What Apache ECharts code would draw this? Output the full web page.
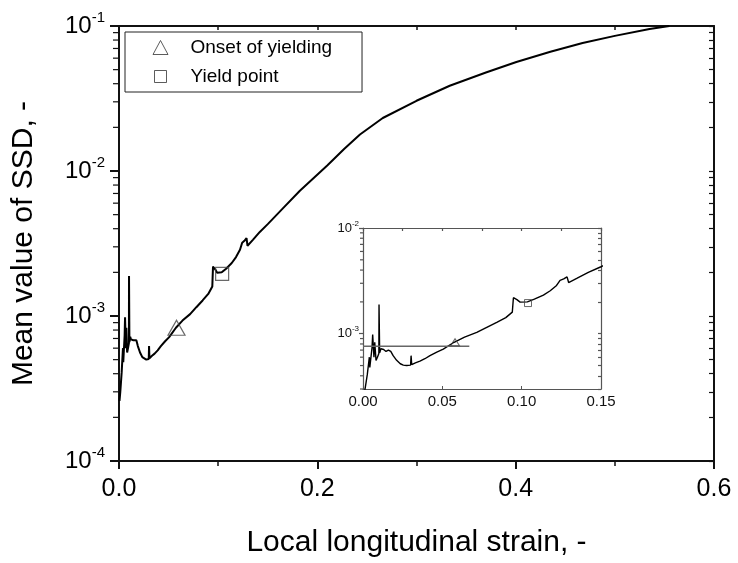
<!DOCTYPE html>
<html>
<head>
<meta charset="utf-8">
<script src="https://cdn.jsdelivr.net/npm/echarts@6/dist/echarts.min.js"></script>
<style>
  html, body { margin: 0; background: #fff; }
  #chart { width: 738px; height: 563px; }
</style>
</head>
<body>
<div id="chart"></div>
<script>
// strain (-) and mean SSD (-)
const strain = [
  0.0005, 0.0013, 0.0027, 0.0040, 0.0043, 0.0057, 0.0061, 0.0069, 0.0074, 0.0082,
  0.0091, 0.0100, 0.0101, 0.0105, 0.0113, 0.0120, 0.0130, 0.0145, 0.0160, 0.0175,
  0.0190, 0.0212, 0.0235, 0.0254, 0.0275, 0.0300, 0.0303, 0.0307, 0.0330, 0.0359,
  0.0390, 0.0422, 0.0465, 0.0506, 0.0574, 0.0640, 0.0717, 0.0780, 0.0843, 0.0900,
  0.0941, 0.0948, 0.0970, 0.0990, 0.1036, 0.1080, 0.1137, 0.1180, 0.1220, 0.1242,
  0.1265, 0.1286, 0.1296, 0.1350, 0.1420, 0.1500, 0.1650, 0.1824, 0.2100, 0.2270,
  0.2430, 0.2660, 0.3000, 0.3335, 0.3700, 0.4007, 0.4350, 0.4675, 0.5000, 0.5350,
  0.5550
];
const ssd = [
  2.6e-4, 3.0e-4, 4.1e-4, 6.0e-4, 4.8e-4, 7.4e-4, 9.8e-4, 6.0e-4, 8.3e-4, 5.6e-4,
  6.0e-4, 6.5e-4, 1.89e-3, 6.6e-4, 7.2e-4, 6.9e-4, 7.1e-4, 6.8e-4, 7.0e-4, 6.8e-4,
  6.2e-4, 5.6e-4, 5.2e-4, 5.05e-4, 5.0e-4, 5.05e-4, 6.2e-4, 5.1e-4, 5.3e-4, 5.5e-4,
  5.8e-4, 6.2e-4, 6.7e-4, 7.15e-4, 8.3e-4, 9.3e-4, 1.03e-3, 1.15e-3, 1.28e-3, 1.42e-3,
  1.6e-3, 2.19e-3, 2.1e-3, 1.99e-3, 2.0e-3, 2.12e-3, 2.32e-3, 2.55e-3, 2.86e-3, 3.2e-3,
  3.3e-3, 3.45e-3, 3.05e-3, 3.35e-3, 3.8e-3, 4.3e-3, 5.5e-3, 7.3e-3, 1.09e-2, 1.42e-2,
  1.786e-2, 2.32e-2, 3.05e-2, 3.87e-2, 4.78e-2, 5.65e-2, 6.65e-2, 7.63e-2, 8.55e-2, 9.54e-2,
  0.1
];
const onset = [0.058, 8.3e-4];
const yieldPt = [0.104, 1.95e-3];
// horizontal reference line in the inset
const refX = [0, 0.067];
const refY = 7.6e-4;

const font = 'Liberation Sans, Arial, sans-serif';
const curve = strain.map((x, i) => [x, ssd[i]]);

// log tick positions (exponent space); withMajor adds the decades too
const logTicks = (lo, hi, withMajor) => {
  const out = [];
  for (let n = Math.floor(lo); n <= hi; n++) {
    for (let k = withMajor ? 1 : 2; k <= 9; k++) {
      const v = n + Math.log10(k);
      if (v >= lo - 1e-9 && v <= hi + 1e-9) out.push(v);
    }
  }
  return out;
};

const powLabel = (v) => '{b|10}{s|' + Math.round(Math.log10(v)) + '}';

const triIcon = 'path://M0,0M16,16M8,1L15.5,15L0.5,15Z';
const sqIcon = 'path://M0,0M16,16M2,2L14,2L14,14L2,14Z';

const hollow = (c, w) => ({ color: 'transparent', borderColor: c, borderWidth: w });

const mainLine = () => ({ show: true, onZero: false, lineStyle: { color: '#111', width: 2 } });
const insetLine = () => ({ show: true, onZero: false, lineStyle: { color: '#555', width: 1.2 } });

// extra value axis in exponent space, only used to draw the right-side log ticks
const tickAxis = (grid, lo, hi, len, color) => ({
  gridIndex: grid, type: 'value', position: 'right', min: lo, max: hi,
  axisLine: grid === 0 ? mainLine() : insetLine(),
  axisTick: { show: true, inside: true, length: len, customValues: logTicks(lo, hi, true), lineStyle: { color, width: 1.2 } },
  splitLine: { show: false },
  axisLabel: { show: false },
});

const chart = echarts.init(document.getElementById('chart'));
chart.setOption({
  animation: false,
  backgroundColor: '#fff',
  grid: [
    { left: 119, right: 24, top: 26, bottom: 100 },
    { left: 363, right: 137, top: 228, bottom: 174 },
  ],
  legend: {
    left: 125,
    top: 32,
    orient: 'vertical',
    borderColor: '#222',
    borderWidth: 1,
    borderRadius: 0,
    padding: [6, 30, 6, 27],
    itemWidth: 50,
    itemHeight: 16,
    itemGap: 10,
    textStyle: { fontSize: 19, fontFamily: font, color: '#000' },
    data: [
      { name: 'Onset of yielding', icon: triIcon, itemStyle: hollow('#333', 1) },
      { name: 'Yield point', icon: sqIcon, itemStyle: hollow('#333', 1) },
    ],
  },
  xAxis: [
    {
      gridIndex: 0, type: 'value', position: 'bottom', min: 0, max: 0.6, interval: 0.2,
      axisLine: mainLine(),
      axisTick: { length: 8, lineStyle: { color: '#111', width: 2 } },
      minorTick: { show: true, splitNumber: 2, length: 5, lineStyle: { color: '#111', width: 1.5 } },
      splitLine: { show: false },
      axisLabel: { fontSize: 25, fontFamily: font, color: '#000', margin: 16, formatter: (v) => v.toFixed(1) },
      name: 'Local longitudinal strain, -',
      nameLocation: 'middle',
      nameGap: 67,
      nameTextStyle: { fontSize: 30, fontFamily: font, color: '#000' },
    },
    {
      gridIndex: 0, type: 'value', position: 'top', min: 0, max: 0.6, interval: 0.1,
      axisLine: mainLine(),
      axisTick: { inside: true, length: 4, lineStyle: { color: '#111', width: 1.5 } },
      splitLine: { show: false },
      axisLabel: { show: false },
    },
    {
      gridIndex: 1, type: 'value', position: 'bottom', min: 0, max: 0.15, interval: 0.05,
      axisLine: insetLine(),
      axisTick: { inside: true, length: 3, lineStyle: { color: '#555' } },
      splitLine: { show: false },
      axisLabel: { fontSize: 15, fontFamily: font, color: '#111', margin: 5, formatter: (v) => v.toFixed(2) },
    },
    {
      gridIndex: 1, type: 'value', position: 'top', min: 0, max: 0.15, interval: 0.025,
      axisLine: insetLine(),
      axisTick: { inside: true, length: 3, lineStyle: { color: '#555', width: 1.2 } },
      splitLine: { show: false },
      axisLabel: { show: false },
    },
  ],
  yAxis: [
    {
      gridIndex: 0, type: 'log', logBase: 10, position: 'left', min: 1e-4, max: 0.1,
      axisLine: mainLine(),
      axisTick: { length: 9, lineStyle: { color: '#111', width: 2 } },
      splitLine: { show: false },
      axisLabel: {
        margin: 14, color: '#000', formatter: powLabel,
        rich: {
          b: { fontSize: 24, fontFamily: font, color: '#000' },
          s: { fontSize: 15, fontFamily: font, color: '#000', padding: [0, 0, 16, 0] },
        },
      },
      name: 'Mean value of SSD, -',
      nameLocation: 'middle',
      nameGap: 80,
      nameTextStyle: { fontSize: 30, fontFamily: font, color: '#000' },
    },
    tickAxis(0, -4, -1, 5, '#111'),
    {
      gridIndex: 1, type: 'log', logBase: 10, position: 'left', min: 3e-4, max: 1e-2,
      axisLine: insetLine(),
      axisTick: { length: 4, lineStyle: { color: '#555', width: 1.2 } },
      splitLine: { show: false },
      axisLabel: {
        margin: 4, showMinLabel: false, formatter: powLabel,
        rich: {
          b: { fontSize: 13, fontFamily: font, color: '#111' },
          s: { fontSize: 8, fontFamily: font, color: '#111', padding: [0, 0, 9, 0] },
        },
      },
    },
    tickAxis(1, Math.log10(3e-4), -2, 3, '#555'),
  ],
  series: [
    {
      name: 'SSD', type: 'line', xAxisIndex: 0, yAxisIndex: 0, data: curve,
      showSymbol: false, lineStyle: { color: '#000', width: 2 }, clip: true,
    },
    {
      name: 'Onset of yielding', type: 'scatter', xAxisIndex: 0, yAxisIndex: 0, data: [onset],
      symbol: 'triangle', symbolSize: [17, 15], itemStyle: hollow('#444', 1.2), z: 5,
    },
    {
      name: 'Yield point', type: 'scatter', xAxisIndex: 0, yAxisIndex: 0, data: [yieldPt],
      symbol: 'rect', symbolSize: 13, itemStyle: hollow('#444', 1.2), z: 5,
    },
    {
      name: 'SSD inset', type: 'line', xAxisIndex: 2, yAxisIndex: 2, data: curve,
      showSymbol: false, lineStyle: { color: '#000', width: 1.4 }, clip: true,
    },
    {
      name: 'ref', type: 'line', xAxisIndex: 2, yAxisIndex: 2,
      data: refX.map((x) => [x, refY]),
      showSymbol: false, lineStyle: { color: '#666', width: 1.5 },
    },
    {
      name: 'Onset of yielding', type: 'scatter', xAxisIndex: 2, yAxisIndex: 2, data: [onset],
      symbol: 'triangle', symbolSize: [9, 7], itemStyle: hollow('#444', 1), z: 5,
    },
    {
      name: 'Yield point', type: 'scatter', xAxisIndex: 2, yAxisIndex: 2, data: [yieldPt],
      symbol: 'rect', symbolSize: 7, itemStyle: hollow('#444', 1), z: 5,
    },
  ],
});

// left-side log minor ticks, placed through the log axes themselves
const leftTicks = (xAxisIndex, yAxisIndex, lo, hi, len, color) => {
  const x0 = chart.convertToPixel({ xAxisIndex }, 0);
  return logTicks(lo, hi, false).map((e) => {
    const y = chart.convertToPixel({ yAxisIndex }, Math.pow(10, e));
    return {
      type: 'line', silent: true, z: 10,
      shape: { x1: x0 - len, y1: y, x2: x0, y2: y },
      style: { stroke: color, lineWidth: 1.2 },
    };
  });
};

chart.setOption({
  graphic: [
    ...leftTicks(0, 0, -4, -1, 6, '#111'),
    ...leftTicks(2, 2, Math.log10(3e-4), -2, 3, '#555'),
  ],
});
</script>
</body>
</html>
